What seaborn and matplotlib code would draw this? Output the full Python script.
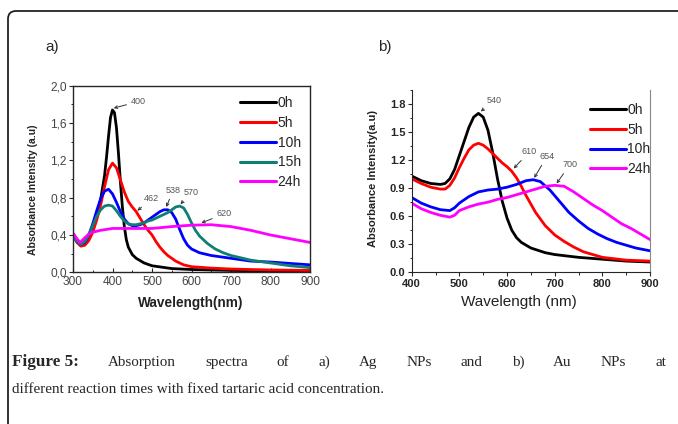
import numpy as np
import pandas as pd
import seaborn as sns
import matplotlib
matplotlib.use('Agg')
import matplotlib.pyplot as plt
from matplotlib.patches import FancyBboxPatch
from matplotlib.ticker import MultipleLocator, FuncFormatter
from matplotlib.transforms import IdentityTransform

# a) Ag NPs - absorption spectra
ag_0h_wl = [300, 310, 320, 330, 340, 350, 360, 370, 380, 385, 390, 395, 400, 405, 410, 415, 420, 425,
            430, 435, 440, 450, 460, 480, 500, 550, 600, 700, 800, 900]
ag_0h_abs = [0.40, 0.33, 0.29, 0.30, 0.36, 0.46, 0.60, 0.78, 1.04, 1.24, 1.46, 1.66, 1.74, 1.71, 1.55, 1.28,
             0.97, 0.70, 0.49, 0.35, 0.27, 0.19, 0.15, 0.10, 0.07, 0.04, 0.03, 0.02, 0.015, 0.01]

ag_5h_wl = [300, 310, 320, 330, 340, 350, 360, 370, 380, 390, 400, 410, 420, 430, 440, 450, 460, 470,
            480, 490, 500, 510, 520, 530, 540, 560, 580, 600, 650, 700, 800, 900]
ag_5h_abs = [0.40, 0.32, 0.28, 0.29, 0.34, 0.43, 0.56, 0.72, 0.92, 1.10, 1.17, 1.12, 0.99, 0.86, 0.76, 0.70,
             0.65, 0.58, 0.51, 0.45, 0.40, 0.33, 0.27, 0.22, 0.18, 0.12, 0.08, 0.06, 0.045, 0.035, 0.025, 0.02]

ag_10h_wl = [300, 310, 320, 330, 340, 350, 360, 370, 380, 390, 400, 410, 420, 430, 440, 450, 460, 470,
             480, 490, 500, 510, 520, 530, 540, 550, 560, 570, 580, 590, 600, 620, 650, 700, 750, 800, 900]
ag_10h_abs = [0.40, 0.33, 0.30, 0.32, 0.40, 0.52, 0.66, 0.79, 0.87, 0.89, 0.84, 0.75, 0.65, 0.57, 0.52, 0.50,
              0.50, 0.51, 0.53, 0.56, 0.59, 0.62, 0.65, 0.67, 0.67, 0.64, 0.57, 0.46, 0.36, 0.29, 0.25, 0.21,
              0.18, 0.15, 0.12, 0.11, 0.08]

ag_15h_wl = [300, 310, 320, 330, 340, 350, 360, 370, 380, 390, 400, 410, 420, 430, 440, 450, 460, 470,
             480, 490, 500, 510, 520, 530, 540, 550, 560, 570, 580, 590, 600, 610, 620, 640, 660, 680, 700,
             750, 800, 850, 900]
ag_15h_abs = [0.40, 0.33, 0.30, 0.33, 0.40, 0.50, 0.60, 0.67, 0.71, 0.72, 0.71, 0.66, 0.60, 0.55, 0.52, 0.51,
              0.51, 0.52, 0.53, 0.55, 0.56, 0.58, 0.60, 0.62, 0.64, 0.67, 0.70, 0.71, 0.69, 0.62, 0.53, 0.45,
              0.39, 0.31, 0.25, 0.21, 0.18, 0.13, 0.10, 0.07, 0.05]

ag_24h_wl = [300, 310, 318, 330, 340, 350, 370, 400, 450, 500, 550, 600, 650, 700, 750, 800, 850, 900]
ag_24h_abs = [0.42, 0.36, 0.32, 0.37, 0.41, 0.43, 0.45, 0.47, 0.47, 0.47, 0.49, 0.505, 0.51, 0.49, 0.45,
              0.40, 0.36, 0.32]

# b) Au NPs - absorption spectra
au_0h_wl = [400, 420, 440, 460, 470, 480, 490, 500, 510, 520, 530, 540, 550, 560, 570, 580, 590, 600, 610,
            620, 630, 650, 680, 700, 750, 800, 850, 900]
au_0h_abs = [1.03, 0.98, 0.95, 0.94, 0.95, 1.00, 1.10, 1.25, 1.40, 1.55, 1.66, 1.70, 1.66, 1.52, 1.28, 1.00,
             0.76, 0.58, 0.45, 0.37, 0.32, 0.26, 0.21, 0.19, 0.16, 0.14, 0.12, 0.11]

au_5h_wl = [400, 420, 440, 460, 470, 480, 490, 500, 510, 520, 530, 540, 550, 560, 570, 580, 590, 600, 610,
            620, 630, 640, 650, 660, 670, 680, 700, 720, 740, 760, 800, 850, 900]
au_5h_abs = [1.00, 0.95, 0.91, 0.89, 0.89, 0.93, 1.01, 1.12, 1.22, 1.31, 1.36, 1.38, 1.36, 1.32, 1.27, 1.22,
             1.17, 1.13, 1.08, 1.01, 0.92, 0.82, 0.73, 0.64, 0.57, 0.50, 0.40, 0.33, 0.27, 0.22, 0.16, 0.13,
             0.12]

au_10h_wl = [400, 420, 440, 460, 480, 490, 500, 520, 540, 560, 580, 600, 620, 640, 655, 670, 690, 710, 730,
             750, 770, 790, 810, 830, 850, 870, 900]
au_10h_abs = [0.80, 0.74, 0.70, 0.67, 0.66, 0.69, 0.74, 0.81, 0.86, 0.88, 0.89, 0.91, 0.94, 0.98, 0.99, 0.97,
              0.88, 0.76, 0.64, 0.55, 0.47, 0.41, 0.36, 0.32, 0.29, 0.26, 0.23]

au_24h_wl = [400, 420, 440, 460, 480, 490, 500, 520, 540, 560, 580, 600, 620, 640, 660, 680, 700, 720, 740,
             760, 780, 800, 820, 840, 860, 880, 900]
au_24h_abs = [0.74, 0.68, 0.64, 0.61, 0.59, 0.61, 0.66, 0.70, 0.73, 0.75, 0.78, 0.80, 0.83, 0.86, 0.89, 0.92,
              0.93, 0.92, 0.86, 0.79, 0.72, 0.66, 0.59, 0.52, 0.47, 0.41, 0.35]

ag_times = ['0h', '5h', '10h', '15h', '24h']
au_times = ['0h', '5h', '10h', '24h']

# peak labels: text, peak x, peak y, label x, label y
ag_peaks = [('400', 403, 1.76, 447, 1.83), ('462', 463, 0.66, 480, 0.79),
            ('538', 536, 0.70, 535, 0.88), ('570', 572, 0.73, 581, 0.855), ('620', 625, 0.53, 664, 0.625)]
au_peaks = [('540', 545, 1.72, 557, 1.84), ('610', 614, 1.11, 631, 1.29),
            ('654', 657, 1.01, 668, 1.24), ('700', 704, 0.95, 716, 1.15)]

colors = {'0h': '#000000', '5h': '#ff0000', '10h': '#0000ff', '15h': '#0f7f73', '24h': '#ff00ff'}


def long_df(series):
    frames = []
    for name, wl, ab in series:
        frames.append(pd.DataFrame({'wl': wl, 'abs': ab, 'time': name}))
    return pd.concat(frames, ignore_index=True)


ag_df = long_df(zip(ag_times, [ag_0h_wl, ag_5h_wl, ag_10h_wl, ag_15h_wl, ag_24h_wl],
                    [ag_0h_abs, ag_5h_abs, ag_10h_abs, ag_15h_abs, ag_24h_abs]))
au_df = long_df(zip(au_times, [au_0h_wl, au_5h_wl, au_10h_wl, au_24h_wl],
                    [au_0h_abs, au_5h_abs, au_10h_abs, au_24h_abs]))

sns.set_style('ticks')
plt.rcParams['font.family'] = ['Liberation Sans', 'DejaVu Sans']

W, H = 678, 424
fig = plt.figure(figsize=(W / 100, H / 100), dpi=100)


def px_axes(l, t, r, b):
    return fig.add_axes([l / W, 1 - b / H, (r - l) / W, (b - t) / H])


ax1 = px_axes(73, 85.7, 310, 272.3)
ax2 = px_axes(411.7, 90, 650, 272.3)

sns.lineplot(data=ag_df, x='wl', y='abs', hue='time', palette=colors, hue_order=ag_times,
             sort=False, estimator=None, lw=2.0, ax=ax1)
sns.lineplot(data=au_df, x='wl', y='abs', hue='time', palette=colors, hue_order=au_times,
             sort=False, estimator=None, lw=2.0, ax=ax2)

# panel a
ax1.set_xlim(300, 900)
ax1.set_ylim(0, 2.0)
ax1.xaxis.set_major_locator(MultipleLocator(100))
ax1.xaxis.set_minor_locator(MultipleLocator(50))
ax1.yaxis.set_major_locator(MultipleLocator(0.4))
ax1.yaxis.set_minor_locator(MultipleLocator(0.2))
ax1.yaxis.set_major_formatter(FuncFormatter(lambda v, p: f'{v:.1f}'.replace('.', ',')))
ax1.tick_params(labelsize=8.6, labelcolor='#444444', length=3, width=0.8, pad=1.5)
ax1.tick_params(which='minor', length=1.8, width=0.7)
ax1.tick_params(axis='x', which='both', direction='in', pad=3)
for s in ax1.spines.values():
    s.set_visible(True)
    s.set_linewidth(1.0)
ax1.set_xlabel('Wavelength(nm)', fontsize=9.8, fontweight='bold', color='#222222', va='center')
ax1.xaxis.set_label_coords(0.496, -0.165)
ax1.set_ylabel('Absorbance Intensity (a.u)', fontsize=7.5, fontweight='bold', color='#222222', va='center')
ax1.yaxis.set_label_coords(-0.169, 0.444)

# panel b
ax2.set_xlim(400, 900)
ax2.set_ylim(0, 1.95)
ax2.xaxis.set_major_locator(MultipleLocator(100))
ax2.xaxis.set_minor_locator(MultipleLocator(50))
ax2.yaxis.set_major_locator(MultipleLocator(0.3))
ax2.yaxis.set_minor_locator(MultipleLocator(0.15))
ax2.yaxis.set_major_formatter(FuncFormatter(lambda v, p: f'{v:.1f}'))
ax2.tick_params(labelsize=8, length=3, width=0.8, pad=1.5)
ax2.tick_params(which='minor', length=1.8, width=0.7)
for lab in ax2.get_xticklabels() + ax2.get_yticklabels():
    lab.set_fontweight('bold')
ax2.spines['top'].set_visible(False)
ax2.spines['right'].set_color('#888888')
ax2.set_xlabel('Wavelength (nm)', fontsize=11, va='center', color='#222222')
ax2.xaxis.set_label_coords(0.45, -0.163)
ax2.set_ylabel('Absorbance Intensity(a.u)', fontsize=8, fontweight='bold', color='#222222', va='center')
ax2.yaxis.set_label_coords(-0.162, 0.512)

for ax, anchor in [(ax1, (0.705, 0.945)), (ax2, (0.747, 0.93))]:
    h, l = ax.get_legend_handles_labels()
    for hh in h:
        hh.set_linewidth(2.2)
    ax.legend(h, l, loc='upper left', bbox_to_anchor=anchor, frameon=False, fontsize=10,
              handlelength=2.6, handletextpad=0.1, labelspacing=0.42, borderpad=0, borderaxespad=0)

for ax, peaks in [(ax1, ag_peaks), (ax2, au_peaks)]:
    for txt, px, py, tx, ty in peaks:
        ax.annotate(txt, xy=(px, py), xytext=(tx, ty), fontsize=6.5, color='#555555',
                    ha='left', va='center',
                    arrowprops=dict(arrowstyle='->', color='#333333', lw=0.7, shrinkA=1, shrinkB=0,
                                    mutation_scale=5))

fig.text(45 / W, 1 - 47 / H, 'a)', fontsize=11, va='center', ha='left')
fig.text(378 / W, 1 - 47 / H, 'b)', fontsize=11, va='center', ha='left')

# rounded frame round the figure
frame = FancyBboxPatch((8, -30), 720, H - 11 + 30, boxstyle='round,pad=0,rounding_size=8',
                       transform=IdentityTransform(), fill=False, ec='#222222', lw=1.3)
fig.add_artist(frame)

# caption, first line justified
serif = ['Liberation Serif', 'DejaVu Serif']
cap = 10.9
line1 = [('Figure 5:', 'bold', 12.3), ('Absorption', 'normal', cap), ('spectra', 'normal', cap),
         ('of', 'normal', cap), ('a)', 'normal', cap), ('Ag', 'normal', cap), ('NPs', 'normal', cap),
         ('and', 'normal', cap), ('b)', 'normal', cap), ('Au', 'normal', cap), ('NPs', 'normal', cap),
         ('at', 'normal', cap)]
line2 = 'different reaction times with fixed tartaric acid concentration.'

renderer = fig.canvas.get_renderer()
texts = []
widths = []
for w, weight, size in line1:
    t = fig.text(0, 1 - 366 / H, w, fontsize=size, family=serif, fontweight=weight,
                 va='baseline', ha='left')
    texts.append(t)
    widths.append(t.get_window_extent(renderer).width)
x_left, x_right = 12, 666
gap = (x_right - x_left - sum(widths)) / (len(texts) - 1)
x = x_left
for t, wd in zip(texts, widths):
    t.set_x(x / W)
    x += wd + gap
fig.text(x_left / W, 1 - 393 / H, line2, fontsize=cap, family=serif, va='baseline', ha='left')

fig.savefig('out.png', dpi=100)
